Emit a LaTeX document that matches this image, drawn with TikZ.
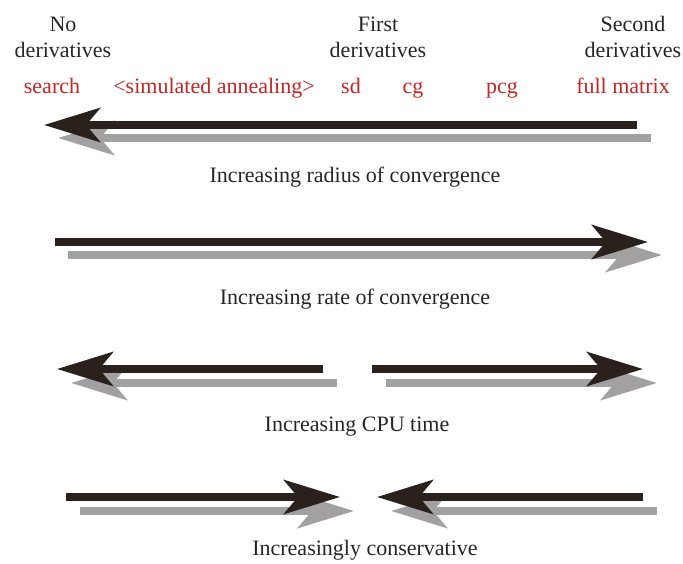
\documentclass[tikz,border=0pt]{standalone}
\usepackage{fontspec}
\setmainfont{Liberation Serif}
\usetikzlibrary{arrows.meta}
\definecolor{shaftdark}{RGB}{42,33,29}
\definecolor{shadowgray}{RGB}{162,160,160}
\definecolor{methodred}{RGB}{196,38,38}
\tikzset{
  lbl/.style={anchor=base, inner sep=0pt, font=\fontsize{22}{26}\selectfont, text=black!85},
  method/.style={lbl, text=methodred},
  bigarrow/.style={draw=shaftdark, line width=8pt,
    -{Stealth[length=56pt,width=34pt,inset=14pt]}},
  shadowarrow/.style={draw=shadowgray, line width=8.5pt,
    -{Stealth[length=56pt,width=34pt,inset=14pt]}},
}
\begin{document}
\begin{tikzpicture}[x=1pt,y=-1pt]
\useasboundingbox[fill=white] (0,0) rectangle (683,564);

% derivative levels
\node[lbl] (no)  at (63,32) {No};
\node[lbl] (nod) at (63,58) {derivatives};
\node[lbl] (fi)  at (378,32) {First};
\node[lbl] (fid) at (378,58) {derivatives};
\node[lbl] (se)  at (633,32) {Second};
\node[lbl] (sed) at (633,58) {derivatives};

% methods
\node[method] (search) at (52,94) {search};
\node[method] (sa)     at (214,94) {<simulated annealing>};
\node[method] (sd)     at (351,94) {sd};
\node[method] (cg)     at (413,94) {cg};
\node[method] (pcg)    at (502,94) {pcg};
\node[method] (full)   at (623,94) {full matrix};

% arrow end points
\coordinate (r1a) at (637,125); \coordinate (r1b) at (44,125);
\coordinate (s1a) at (651,138); \coordinate (s1b) at (58,138);
\coordinate (r2a) at (55,242);  \coordinate (r2b) at (648,242);
\coordinate (s2a) at (68,255);  \coordinate (s2b) at (662,255);
\coordinate (r3a) at (323,369); \coordinate (r3b) at (57,369);
\coordinate (s3a) at (337,383); \coordinate (s3b) at (71,383);
\coordinate (r3c) at (372,369); \coordinate (r3d) at (643,369);
\coordinate (s3c) at (386,383); \coordinate (s3d) at (657,383);
\coordinate (r4a) at (66,497);  \coordinate (r4b) at (340,497);
\coordinate (s4a) at (80,511);  \coordinate (s4b) at (354,511);
\coordinate (r4c) at (643,497); \coordinate (r4d) at (377,497);
\coordinate (s4c) at (657,511); \coordinate (s4d) at (391,511);

% shadows first, then the dark arrows on top
\draw[shadowarrow] (s1a) -- (s1b);
\draw[bigarrow]    (r1a) -- (r1b);
\draw[shadowarrow] (s2a) -- (s2b);
\draw[bigarrow]    (r2a) -- (r2b);
\draw[shadowarrow] (s3a) -- (s3b);
\draw[bigarrow]    (r3a) -- (r3b);
\draw[shadowarrow] (s3c) -- (s3d);
\draw[bigarrow]    (r3c) -- (r3d);
\draw[shadowarrow] (s4a) -- (s4b);
\draw[bigarrow]    (r4a) -- (r4b);
\draw[shadowarrow] (s4c) -- (s4d);
\draw[bigarrow]    (r4c) -- (r4d);

% captions
\node[lbl] (cap1) at (355,183) {Increasing radius of convergence};
\node[lbl] (cap2) at (355,305) {Increasing rate of convergence};
\node[lbl] (cap3) at (357,431) {Increasing CPU time};
\node[lbl] (cap4) at (365,555) {Increasingly conservative};
\end{tikzpicture}
\end{document}
